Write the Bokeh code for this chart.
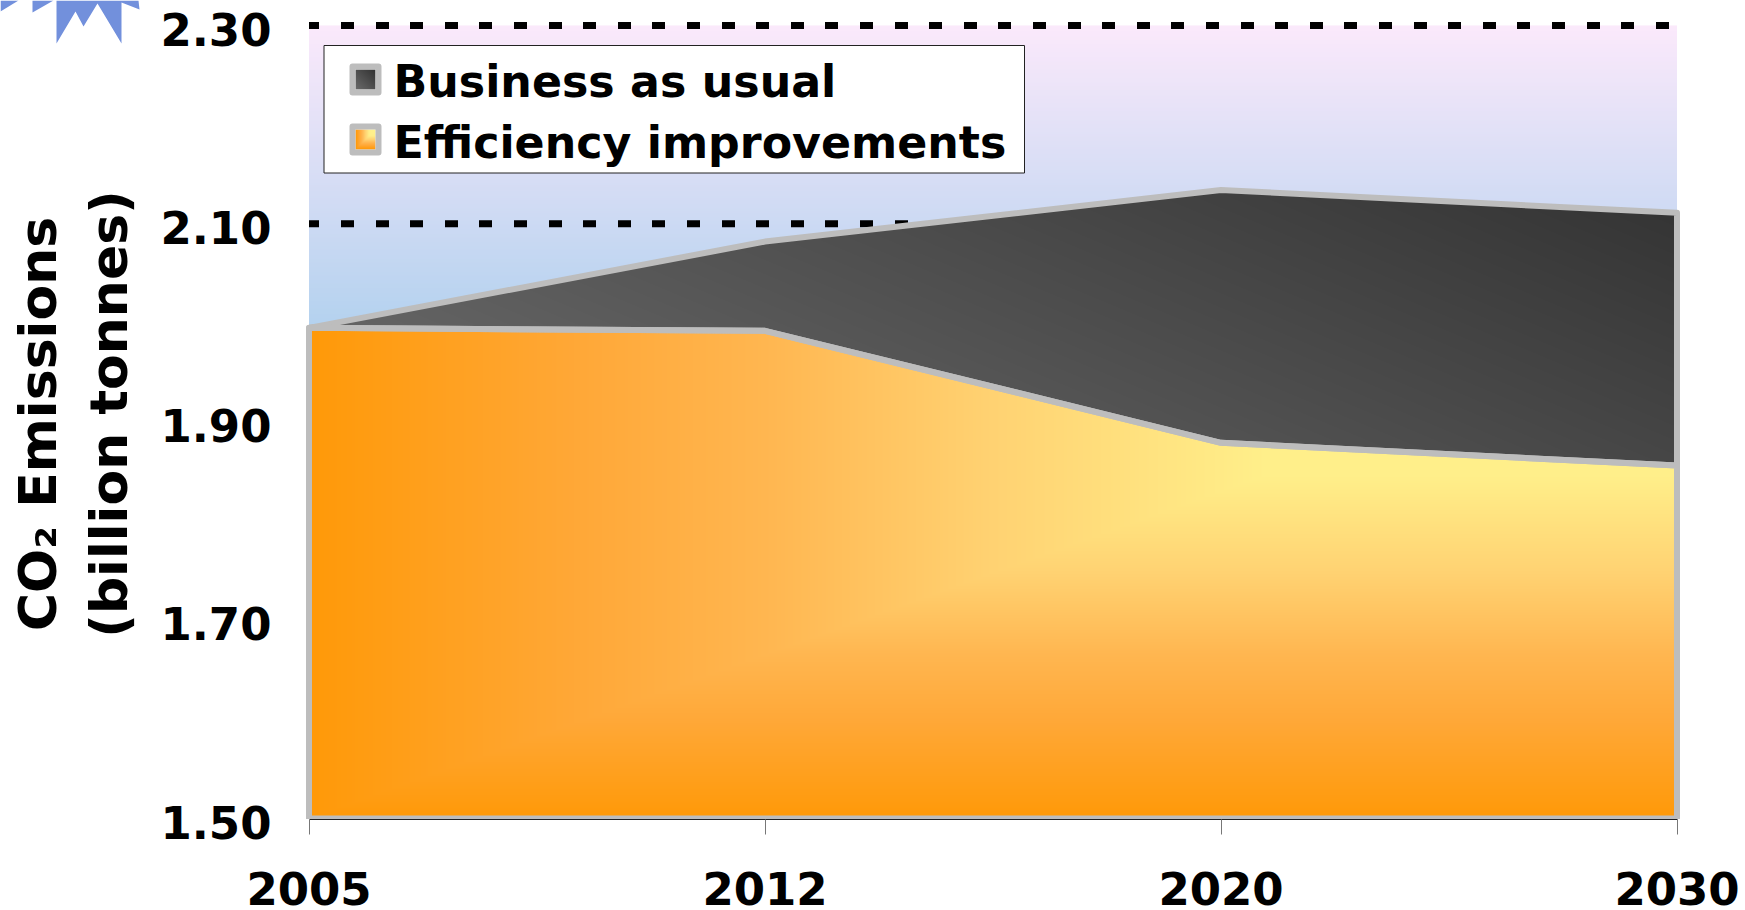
import math
import numpy as np
from bokeh.core.properties import value
from bokeh.embed import file_html
from bokeh.models import FixedTicker, LinearAxis, Range1d
from bokeh.plotting import figure
from bokeh.resources import INLINE

years = ["2005", "2012", "2020", "2030"]
business_as_usual = [1.995, 2.082, 2.134, 2.111]
efficiency_improvements = [1.995, 1.992, 1.879, 1.856]
y_ticks = [1.50, 1.70, 1.90, 2.10, 2.30]
reference_levels = [2.10, 2.30]
legend_labels = ["Business as usual", "Efficiency improvements"]
axis_title = ["CO₂ Emissions", "(billion tonnes)"]

FONT = "DejaVu Sans"
OUTLINE = "#bdbdbd"

# canvas layout, in pixels; the frame fills the canvas and the axes are placed inside it
WIDTH, HEIGHT = 1745, 910
AXIS_X = 300
X0, X3 = 308.5, 1676.5       # first and last category
Y15, Y23 = 818.0, 25.0       # value axis 1.5 and 2.3
LABEL_DROP = 3.5             # value labels sit slightly below their level
sx = (X3 - X0) / 3
sy = (Y15 - Y23) / 0.8


def X(px):
    return (px - X0) / sx


def Y(px):
    return 1.5 + (Y15 - px) / sy


p = figure(
    width=WIDTH, height=HEIGHT, output_backend="svg", toolbar_location=None,
    x_range=Range1d(X(0), X(WIDTH)), y_range=Range1d(Y(HEIGHT), Y(0)),
    y_axis_location=None,
    min_border_left=0, min_border_right=0, min_border_top=0, min_border_bottom=0,
    outline_line_color=None, background_fill_color="white", border_fill_color="white",
)
p.grid.visible = False


def rgba(r, g, b, mask=None):
    a = np.full(r.shape, 255, dtype=np.uint32) if mask is None else np.where(mask, 255, 0).astype(np.uint32)
    r, g, b = [np.clip(np.round(c), 0, 255).astype(np.uint32) for c in (r, g, b)]
    return (a << 24 | b << 16 | g << 8 | r).astype(np.uint32)


# sky behind the areas: pink at the top fading to blue
rows = np.arange(793)
py = Y15 - rows - 0.5
t = (py - Y23) / (320 - Y23)
bg = rgba(251 - 70 * t, 233 - 23 * t, 251 - 12 * t)[:, None].repeat(4, axis=1)
p.image_rgba(image=[bg], x=0, y=1.5, dw=3, dh=0.8)

# dotted reference levels
for level in reference_levels:
    p.line([0, 3], [level, level], line_color="black", line_width=7,
           line_dash="13 22 13 22 13 21 13 22 13 21", line_dash_offset=3)

# pixel grid for the shaded areas
nx, ny = int(X3 - X0), int(Y15 - Y23)
gx = np.linspace(0, 3, nx)
gy = 1.5 + (np.arange(ny) + 0.5) / sy
XX, YY = np.meshgrid(gx, gy)
idx = np.arange(len(years))
top_line = np.interp(XX, idx, business_as_usual)
mid_line = np.interp(XX, idx, efficiency_improvements)

dx = 1 - XX / 3
PY = Y15 - (YY - 1.5) * sy


def dark_shade(dxn, dyp):
    return 51 + 40 * dxn + 0.07 * dyp


shade = dark_shade(dx, PY - 190)
dark = rgba(shade, shade, shade, (YY <= top_line) & (YY >= mid_line))
p.image_rgba(image=[dark], x=0, y=1.5, dw=3, dh=0.8)

STOPS_T = [0.0, 0.30, 0.50, 0.667, 0.80, 1.0]
STOPS_G = [242, 239, 210, 182, 168, 153]
STOPS_B = [140, 138, 114, 80, 56, 8]


def warm_shade(t):
    return np.full(t.shape, 255.0), np.interp(t, STOPS_T, STOPS_G), np.interp(t, STOPS_T, STOPS_B)


t = np.maximum(dx, (PY - 328) / (Y15 - 328))
r_, g_, b_ = warm_shade(t)
warm = rgba(r_, g_, b_, YY <= mid_line)
p.image_rgba(image=[warm], x=0, y=1.5, dw=3, dh=0.8)

# area outlines
p.patch(list(idx) + list(idx[::-1]), business_as_usual + efficiency_improvements[::-1],
        fill_alpha=0, line_color=OUTLINE, line_width=6, line_join="round")
p.patch([0, 1, 2, 3, 3, 0], efficiency_improvements + [1.5, 1.5],
        fill_alpha=0, line_color=OUTLINE, line_width=6, line_join="round")

# the outline stops at the category axis: mask whatever spills below it
p.quad(left=[X(AXIS_X)], right=[X(1700)], top=[Y(818.5)], bottom=[Y(830)],
       fill_color="white", line_color=None)

# legend box
p.quad(left=[X(323.5)], right=[X(1024)], top=[Y(45)], bottom=[Y(172.5)],
       fill_color="white", line_color="#222222", line_width=1)

sw = 20
swatch_tops = [69, 129]
u = np.linspace(0, 1, sw)
SX, SY = np.meshgrid(u, u)
for i, top in enumerate(swatch_tops):
    if i == 0:
        v = 51 + 54 * (1 - SX + SY) / 2
        img = rgba(v, v, v)
    else:
        r_, g_, b_ = warm_shade(np.maximum(1 - SX, SY))
        img = rgba(r_, g_, b_)
    img = img[::-1]
    p.image_rgba(image=[img], x=X(355), y=Y(top + sw), dw=sw / sx, dh=sw / sy)
    p.quad(left=[X(352)], right=[X(378)], top=[Y(top - 3)], bottom=[Y(top + sw + 3)],
           fill_alpha=0, line_color=OUTLINE, line_width=6, line_join="round")

p.text(x=[X(393), X(393)], y=[Y(81), Y(142)], text=legend_labels, text_font=value(FONT),
       text_font_style="bold", text_font_size="44.3px", text_color="black",
       text_align="left", text_baseline="alphabetic")

# axes
xa = p.xaxis[0]
xa.fixed_location = Y(818.5)
xa.ticker = FixedTicker(ticks=list(int(i) for i in idx))
xa.major_label_overrides = {int(i): y for i, y in zip(idx, years)}
xa.bounds = (0, 3)
xa.axis_line_color = "#222222"
xa.axis_line_width = 1
xa.major_tick_line_color = "#777777"
xa.major_tick_in = 0
xa.major_tick_out = 15
xa.minor_tick_line_color = None
xa.major_label_standoff = 38
xa.major_label_text_font = FONT
xa.major_label_text_font_style = "bold"
xa.major_label_text_font_size = "45px"
xa.major_label_text_color = "black"

# value labels use a range nudged a few pixels so each label hangs just under its level
p.extra_y_ranges = {"labels": Range1d(Y(HEIGHT) + LABEL_DROP / sy, Y(0) + LABEL_DROP / sy)}
ya = LinearAxis(y_range_name="labels", fixed_location=X(AXIS_X))
ya.ticker = FixedTicker(ticks=y_ticks)
ya.major_label_overrides = {v: f"{v:.2f}" for v in y_ticks}
ya.axis_line_color = None
ya.major_tick_line_color = None
ya.minor_tick_line_color = None
ya.major_tick_in = 0
ya.major_tick_out = 0
ya.major_label_standoff = 29
ya.major_label_text_font = FONT
ya.major_label_text_font_style = "bold"
ya.major_label_text_font_size = "45px"
ya.major_label_text_color = "black"
p.add_layout(ya, "left")

# two-line rotated value-axis title
p.text(x=[X(37), X(108)], y=[Y(423.5), Y(413.5)], text=axis_title, angle=math.pi / 2,
       text_font=value(FONT), text_font_style="bold", text_font_size="52px",
       text_color="black", text_align="center", text_baseline="alphabetic")

# starburst ornament in the top corner
star_parts = [
    [(0, 0), (18, 0), (0, 11)],
    [(32, 0), (32, 12), (53, 0)],
    [(56, 0), (56, 43), (75, 11), (83, 26), (97, 3), (121, 43), (121, 2), (139, 9), (138, 0)],
]
for part in star_parts:
    p.patch([X(a) for a, _ in part], [Y(b) for _, b in part],
            fill_color="#7290dc", line_color=None)

open("out.html", "w").write(file_html(p, INLINE))
